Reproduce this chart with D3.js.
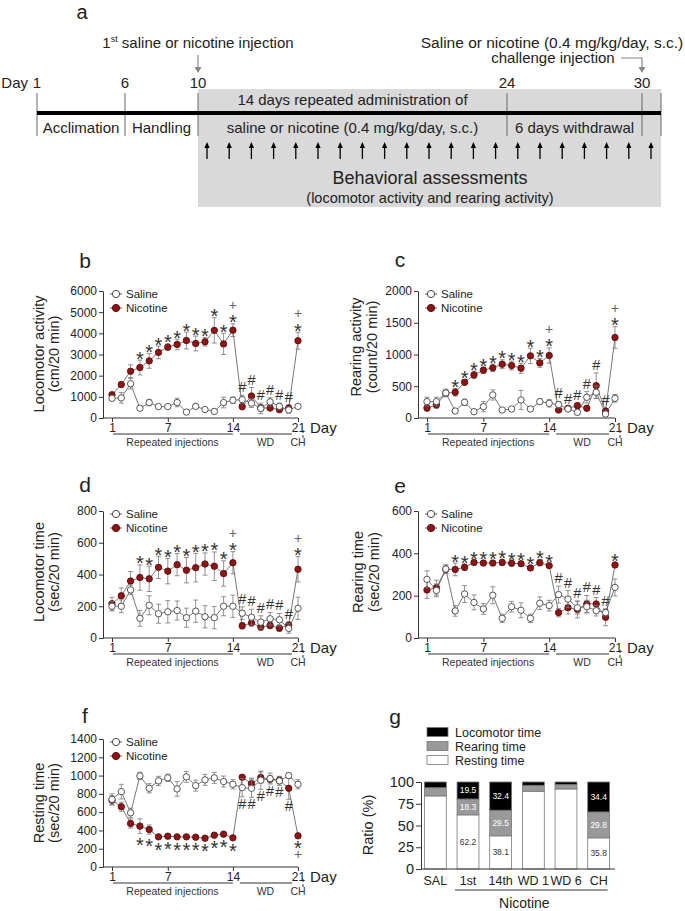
<!DOCTYPE html>
<html>
<head>
<meta charset="utf-8">
<script src="https://cdn.jsdelivr.net/npm/d3@7"></script>
<style>
  body { margin: 0; background: #fff; }
  svg { display: block; font-family: "Liberation Sans", Arial, sans-serif; }
</style>
</head>
<body>
<svg id="fig" width="685" height="911"></svg>
<script>
// ---- data ----
// panel a: experiment timeline
var timelineDays = [1, 6, 10, 24, 30]
var periodLabels = ["Acclimation", "Handling", "saline or nicotine (0.4 mg/kg/day, s.c.)", "6 days withdrawal"]
var assessDays = [10, 11, 12, 13, 14, 15, 16, 17, 18, 19, 20, 21, 22, 23, 24, 25, 26, 27, 28, 29, 30]

// panels b-f: test days (1-14 repeated injections, 15-20 withdrawal, 21 challenge)
var days = [1, 2, 3, 4, 5, 6, 7, 8, 9, 10, 11, 12, 13, 14, 15, 16, 17, 18, 19, 20, 21]
var dayTicks = [1, 7, 14, 21]
var starDays = [4, 5, 6, 7, 8, 9, 10, 11, 12, 13, 14, 21]
var hashDays = [15, 16, 17, 18, 19, 20]

// b: locomotor activity (cm/20 min)
var bTicks = [0, 1000, 2000, 3000, 4000, 5000, 6000]
var bSal = [930, 950, 1620, 460, 730, 540, 540, 730, 280, 550, 400, 310, 730, 840, 870, 700, 450, 760, 550, 380, 550]
var bSalErr = [100, 250, 250, 100, 150, 100, 60, 200, 60, 60, 60, 60, 250, 150, 200, 200, 250, 200, 150, 150, 60]
var bNic = [1100, 1580, 2210, 2385, 2700, 3100, 3350, 3475, 3660, 3520, 3600, 4140, 3500, 4150, 540, 1040, 480, 470, 400, 470, 3650]
var bNicErr = [100, 100, 300, 350, 350, 300, 150, 250, 400, 350, 200, 600, 500, 300, 150, 400, 150, 100, 150, 150, 400]
var bPlus = [14, 21]

// c: rearing activity (count/20 min)
var cTicks = [0, 500, 1000, 1500, 2000]
var cSal = [258, 258, 395, 110, 247, 100, 179, 363, 126, 142, 284, 142, 258, 232, 210, 142, 90, 326, 405, 63, 310]
var cSalErr = [70, 70, 60, 30, 50, 20, 80, 80, 30, 30, 150, 30, 40, 60, 50, 20, 40, 90, 100, 30, 60]
var cNic = [158, 205, 390, 405, 563, 679, 753, 790, 847, 826, 784, 979, 868, 984, 126, 153, 195, 153, 510, 110, 1268]
var cNicErr = [50, 50, 50, 60, 40, 60, 50, 60, 70, 70, 80, 120, 70, 120, 20, 20, 40, 30, 200, 40, 170]
var cPlus = [14, 21]

// d: locomotor time (sec/20 min)
var dTicks = [0, 200, 400, 600, 800]
var dSal = [200, 200, 303, 124, 206, 153, 165, 173, 128, 169, 134, 128, 200, 200, 156, 131, 100, 121, 115, 60, 187]
var dSalErr = [30, 40, 30, 50, 60, 60, 70, 60, 60, 70, 70, 70, 60, 70, 40, 50, 40, 40, 40, 30, 70]
var dNic = [216, 266, 359, 381, 373, 445, 421, 462, 427, 443, 466, 452, 406, 474, 77, 95, 69, 79, 62, 81, 433]
var dNicErr = [40, 50, 60, 80, 80, 70, 80, 70, 80, 90, 70, 90, 80, 70, 20, 20, 20, 20, 20, 20, 80]
var dPlus = [14, 21]

// e: rearing time (sec/20 min)
var eTicks = [0, 200, 400, 600]
var eSal = [277, 225, 326, 128, 208, 168, 137, 202, 93, 148, 131, 93, 164, 153, 205, 184, 143, 148, 129, 120, 239]
var eSalErr = [40, 30, 20, 25, 40, 35, 25, 40, 20, 25, 35, 20, 30, 25, 40, 40, 30, 30, 25, 15, 40]
var eNic = [227, 238, 324, 324, 334, 357, 354, 354, 357, 353, 351, 331, 356, 342, 120, 143, 135, 161, 161, 98, 345]
var eNicErr = [40, 35, 20, 30, 15, 10, 10, 10, 15, 10, 10, 10, 15, 10, 20, 30, 40, 40, 30, 40, 10]
var ePlus = []

// f: resting time (sec/20 min)
var fTicks = [0, 200, 400, 600, 800, 1000, 1200, 1400]
var fSal = [740, 824, 593, 996, 861, 942, 975, 854, 986, 890, 953, 975, 935, 905, 868, 861, 949, 967, 942, 1000, 905]
var fSalErr = [60, 80, 50, 40, 50, 50, 40, 80, 60, 60, 60, 60, 60, 50, 100, 100, 100, 60, 50, 30, 50]
var fNic = [730, 660, 476, 447, 410, 330, 337, 330, 330, 326, 315, 348, 359, 319, 982, 912, 979, 960, 949, 861, 341]
var fNicErr = [50, 50, 50, 80, 50, 15, 15, 15, 15, 15, 15, 15, 15, 15, 20, 60, 60, 40, 40, 120, 10]
var fPlus = [21]

// g: ratio of time (%)
var gCats = ["SAL", "1st", "14th", "WD 1", "WD 6", "CH"]
var gTicks = [0, 25, 50, 75, 100]
var gResting = [84.0, 62.2, 38.1, 89.4, 92.0, 35.8]
var gRearing = [9.5, 18.3, 29.5, 6.8, 5.0, 29.8]
var gLoco = [6.5, 19.5, 32.4, 3.8, 3.0, 34.4]
var gLabelled = ["1st", "14th", "CH"]  // bars that carry printed values

var nicRed = "#8c1616", nicDark = "#5e0c0c", ink = "#222"

var svg = d3.select("#fig")

function styleAxis(sel, size) {
  sel.attr("font-family", null).attr("font-size", size)
  sel.selectAll("path, line").attr("stroke", "#333")
  sel.selectAll("text").attr("fill", ink)
}

function txt(g, s, x, y, size, anchor) {
  return g.append("text").attr("x", x).attr("y", y).attr("font-size", size)
    .attr("text-anchor", anchor || "middle").attr("fill", ink).text(s)
}

// ---------- panel a ----------
var a = svg.append("g")
var tx = d3.scaleLinear().domain(timelineDays.concat([31])).range([37, 125, 198, 507, 642, 661])

a.append("rect").attr("x", tx(10)).attr("y", 89).attr("width", tx(31) - tx(10)).attr("height", 118).attr("fill", "#d9d9d9")
a.selectAll(".tk").data(timelineDays.concat([31])).enter().append("line")
  .attr("x1", tx).attr("x2", tx).attr("y1", 93).attr("y2", 136).attr("stroke", "#666")
a.append("line").attr("x1", tx(1)).attr("x2", tx(31)).attr("y1", 113).attr("y2", 113).attr("stroke", "#000").attr("stroke-width", 4)

txt(a, "a", 82, 19, 20)
txt(a, "Day", 28, 88, 15, "end")
timelineDays.forEach(function(d) { txt(a, d, tx(d), 88, 15) })
periodLabels.forEach(function(s, i) {
  txt(a, s, (tx(timelineDays[i]) + tx(timelineDays[i + 1])) / 2, 133, 15)
})
txt(a, "14 days repeated administration of", (tx(10) + tx(24)) / 2, 105, 15)

var inj = a.append("text").attr("x", tx(10)).attr("y", 48).attr("font-size", 15).attr("text-anchor", "middle").attr("fill", ink)
inj.append("tspan").text("1")
inj.append("tspan").attr("font-size", 9).attr("dy", -6).text("st")
inj.append("tspan").attr("dy", 6).text(" saline or nicotine injection")
// first injection arrow
a.append("line").attr("x1", tx(10)).attr("x2", tx(10)).attr("y1", 55).attr("y2", 68).attr("stroke", "#888").attr("stroke-width", 1.2)
a.append("path").attr("d", "M" + (tx(10) - 3.5) + ",67L" + tx(10) + ",73L" + (tx(10) + 3.5) + ",67Z").attr("fill", "#888")

txt(a, "Saline or nicotine (0.4 mg/kg/day, s.c.)", 552, 48, 15.5)
txt(a, "challenge injection", 553, 63, 15)
a.append("path").attr("d", "M621,58H" + tx(30) + "V68").attr("fill", "none").attr("stroke", "#888").attr("stroke-width", 1.2)
a.append("path").attr("d", "M" + (tx(30) - 3.5) + ",67L" + tx(30) + ",73L" + (tx(30) + 3.5) + ",67Z").attr("fill", "#888")

var ax = d3.scalePoint().domain(assessDays).range([207, 651])
assessDays.forEach(function(d) {
  var x = ax(d)
  a.append("line").attr("x1", x).attr("x2", x).attr("y1", 159).attr("y2", 146).attr("stroke", "#000").attr("stroke-width", 1.3)
  a.append("path").attr("d", "M" + (x - 2.6) + ",148L" + x + ",142L" + (x + 2.6) + ",148Z").attr("fill", "#000")
})
txt(a, "Behavioral assessments", 430, 184, 18)
txt(a, "(locomotor activity and rearing activity)", 430, 203, 14.5)

// ---------- panels b-f ----------
function mark(g, sym, cx, cy) {
  if (sym === "*") g.append("text").attr("x", cx).attr("y", cy + 11.5).attr("font-size", 20).attr("text-anchor", "middle").attr("fill", "#333").text("*")
  if (sym === "#") g.append("text").attr("x", cx).attr("y", cy + 5).attr("font-size", 14.5).attr("text-anchor", "middle").attr("fill", "#333").text("#")
  if (sym === "+") g.append("text").attr("x", cx).attr("y", cy + 5).attr("font-size", 14).attr("text-anchor", "middle").attr("fill", "#666").text("+")
}

function drawLinePanel(p) {
  var g = svg.append("g")
  var x = d3.scaleLinear().domain([1, 21]).range([p.xFirst, p.xLast])
  var y = d3.scaleLinear().domain([0, p.ticks[p.ticks.length - 1]]).range([p.yBottom, p.yTop])

  var ya = g.append("g").attr("transform", "translate(" + p.axisX + ",0)")
    .call(d3.axisLeft(y).tickValues(p.ticks).tickFormat(d3.format("d")).tickSize(4).tickSizeOuter(0).tickPadding(2))
  styleAxis(ya, 12)

  g.append("line").attr("x1", p.axisX).attr("x2", x(21)).attr("y1", p.yBottom).attr("y2", p.yBottom).attr("stroke", "#333")
  var xa = g.append("g").attr("transform", "translate(0," + p.yBottom + ")")
    .call(d3.axisBottom(x).tickValues(dayTicks).tickSize(4).tickPadding(1))
  xa.select(".domain").remove()
  styleAxis(xa, 12)

  txt(g, "Day", x(21) + 12, p.yBottom + 15, 15, "start")
  var ly = p.yBottom + 16
  g.append("line").attr("x1", x(1) + 1).attr("x2", x(14)).attr("y1", ly).attr("y2", ly).attr("stroke", "#333")
  g.append("line").attr("x1", x(14) + 7).attr("x2", x(21) - 6).attr("y1", ly).attr("y2", ly).attr("stroke", "#333")
  g.append("line").attr("x1", x(21) + 5).attr("x2", x(21) + 5).attr("y1", p.yBottom + 12).attr("y2", p.yBottom + 22)
    .attr("stroke", "#333").attr("stroke-dasharray", "3,2")
  txt(g, "Repeated injections", (x(1) + x(14)) / 2, p.yBottom + 28, 10.5).attr("fill", "#333")
  txt(g, "WD", (x(14) + x(21)) / 2, p.yBottom + 28, 10.5).attr("fill", "#333")
  txt(g, "CH", x(21), p.yBottom + 28, 10.5).attr("fill", "#333")

  // axis titles
  var cy = p.titleY
  g.append("text").attr("transform", "translate(" + p.tx1 + "," + cy + ") rotate(-90)").attr("text-anchor", "middle")
    .attr("font-size", 14.5).attr("fill", ink).text(p.t1)
  g.append("text").attr("transform", "translate(" + p.tx2 + "," + cy + ") rotate(-90)").attr("text-anchor", "middle")
    .attr("font-size", 14.5).attr("fill", ink).text(p.t2)
  txt(g, p.letter, p.lx, p.ly, 21)

  var series = [
    { vals: p.nic, errs: p.nicErr, fill: nicRed, stroke: nicDark },
    { vals: p.sal, errs: p.salErr, fill: "#fff", stroke: "#444" }
  ]
  var line = d3.line().x(function(d, i) { return x(days[i]) }).y(function(d) { return y(d) })
  series.forEach(function(s) {
    g.append("path").datum(s.vals).attr("d", line).attr("fill", "none").attr("stroke", "#555").attr("stroke-width", 0.8)
    s.vals.forEach(function(v, i) {
      var cx = x(days[i]), lo = y(Math.max(0, v - s.errs[i])), hi = y(v + s.errs[i])
      g.append("line").attr("x1", cx).attr("x2", cx).attr("y1", lo).attr("y2", hi).attr("stroke", "#777").attr("stroke-width", 0.8)
      g.append("line").attr("x1", cx - 2.5).attr("x2", cx + 2.5).attr("y1", lo).attr("y2", lo).attr("stroke", "#777").attr("stroke-width", 0.8)
      g.append("line").attr("x1", cx - 2.5).attr("x2", cx + 2.5).attr("y1", hi).attr("y2", hi).attr("stroke", "#777").attr("stroke-width", 0.8)
    })
    g.selectAll(null).data(s.vals).enter().append("circle")
      .attr("cx", function(d, i) { return x(days[i]) }).attr("cy", function(d) { return y(d) })
      .attr("r", 3.2).attr("fill", s.fill).attr("stroke", s.stroke).attr("stroke-width", 0.9)
  })

  // significance marks
  days.forEach(function(d, i) {
    var cx = x(d)
    var star = starDays.indexOf(d) >= 0, hash = hashDays.indexOf(d) >= 0, plus = p.plus.indexOf(d) >= 0
    if (!p.below) {
      var top = Math.min(y(p.sal[i] + p.salErr[i]), y(p.nic[i] + p.nicErr[i]))
      if (star) { mark(g, "*", cx, top - 6); if (plus) mark(g, "+", cx, top - 19) }
      if (hash) mark(g, "#", cx, top - 8)
    } else {
      var bot = Math.max(y(p.sal[i] - p.salErr[i]), y(p.nic[i] - p.nicErr[i]))
      if (star) { mark(g, "*", cx, bot + 7); if (plus) mark(g, "+", cx, bot + 17) }
      if (hash) mark(g, "#", cx, bot + 7)
    }
  })

  // legend
  var lx = p.axisX + 13
  ;[{ name: "Saline", fill: "#fff", stroke: "#444" }, { name: "Nicotine", fill: nicRed, stroke: nicDark }].forEach(function(l, k) {
    var yy = p.yTop + 3 + k * 14
    g.append("line").attr("x1", lx - 6).attr("x2", lx + 6).attr("y1", yy).attr("y2", yy).attr("stroke", "#555")
    g.append("circle").attr("cx", lx).attr("cy", yy).attr("r", 3.6).attr("fill", l.fill).attr("stroke", l.stroke)
    txt(g, l.name, lx + 10, yy + 4, 11.5, "start")
  })
}

var leftX = { axisX: 103, xFirst: 112, xLast: 298, lx: 85, tx1: 44, tx2: 59 }
var rightX = { axisX: 418, xFirst: 427, xLast: 615, lx: 400, tx1: 361, tx2: 377 }

drawLinePanel(Object.assign({ letter: "b", ly: 268, yBottom: 418, yTop: 291, titleY: 354, ticks: bTicks,
  sal: bSal, salErr: bSalErr, nic: bNic, nicErr: bNicErr, plus: bPlus, below: false,
  t1: "Locomotor activity", t2: "(cm/20 min)" }, leftX))
drawLinePanel(Object.assign({ letter: "c", ly: 267, yBottom: 418, yTop: 291, titleY: 347, ticks: cTicks,
  sal: cSal, salErr: cSalErr, nic: cNic, nicErr: cNicErr, plus: cPlus, below: false,
  t1: "Rearing activity", t2: "(count/20 min)" }, rightX))
drawLinePanel(Object.assign({ letter: "d", ly: 492, yBottom: 638, yTop: 511, titleY: 572, ticks: dTicks,
  sal: dSal, salErr: dSalErr, nic: dNic, nicErr: dNicErr, plus: dPlus, below: false,
  t1: "Locomotor time", t2: "(sec/20 min)" }, leftX))
drawLinePanel(Object.assign({ letter: "e", ly: 493, yBottom: 638, yTop: 511, titleY: 572, ticks: eTicks,
  sal: eSal, salErr: eSalErr, nic: eNic, nicErr: eNicErr, plus: ePlus, below: false,
  t1: "Rearing time", t2: "(sec/20 min)" }, Object.assign({}, rightX, { tx1: 363, tx2: 379 })))
drawLinePanel(Object.assign({ letter: "f", ly: 723, yBottom: 867, yTop: 739, titleY: 803, ticks: fTicks,
  sal: fSal, salErr: fSalErr, nic: fNic, nicErr: fNicErr, plus: fPlus, below: true,
  t1: "Resting time", t2: "(sec/20 min)" }, leftX))

// ---------- panel g ----------
var gg = svg.append("g")
var xb = d3.scaleBand().domain(gCats).range([419, 615]).paddingInner(0.33).paddingOuter(0.165)
var yg = d3.scaleLinear().domain([0, 100]).range([869, 782])
var rows = gCats.map(function(c, i) { return { cat: c, resting: gResting[i], rearing: gRearing[i], loco: gLoco[i] } })
var keys = ["resting", "rearing", "loco"]
var segFill = { resting: "#fff", rearing: "#999", loco: "#000" }
var segText = { resting: "#333", rearing: "#fff", loco: "#fff" }
var stacked = d3.stack().keys(keys)(rows)

stacked.forEach(function(layer) {
  gg.selectAll(null).data(layer).enter().append("rect")
    .attr("x", function(d) { return xb(d.data.cat) }).attr("width", xb.bandwidth())
    .attr("y", function(d) { return yg(d[1]) }).attr("height", function(d) { return yg(d[0]) - yg(d[1]) })
    .attr("fill", segFill[layer.key]).attr("stroke", "#777").attr("stroke-width", 0.8)
  gg.selectAll(null).data(layer.filter(function(d) { return gLabelled.indexOf(d.data.cat) >= 0 })).enter().append("text")
    .attr("x", function(d) { return xb(d.data.cat) + xb.bandwidth() / 2 })
    .attr("y", function(d) { return (yg(d[0]) + yg(d[1])) / 2 + 3 })
    .attr("text-anchor", "middle").attr("font-size", 8.5).attr("fill", segText[layer.key])
    .text(function(d) { return d.data[layer.key].toFixed(1) })
})

var gya = gg.append("g").attr("transform", "translate(421,0)")
  .call(d3.axisLeft(yg).tickValues(gTicks).tickSize(5).tickSizeOuter(0).tickPadding(2))
styleAxis(gya, 14.5)
gg.append("line").attr("x1", 421).attr("x2", 615).attr("y1", 869).attr("y2", 869).attr("stroke", "#333")
gCats.forEach(function(c) { txt(gg, c, xb(c) + xb.bandwidth() / 2, 885, 12.5) })
var bx1 = xb("1st") - 2, bx2 = xb("CH") + xb.bandwidth() - 2
gg.append("line").attr("x1", bx1).attr("x2", bx2).attr("y1", 890).attr("y2", 890).attr("stroke", "#333")
txt(gg, "Nicotine", (bx1 + bx2) / 2 - 7, 908, 14)
gg.append("text").attr("transform", "translate(373,825) rotate(-90)").attr("text-anchor", "middle")
  .attr("font-size", 14.5).attr("fill", ink).text("Ratio (%)")
txt(gg, "g", 395, 724, 21)

var legendKeys = ["loco", "rearing", "resting"]
var legendNames = ["Locomotor time", "Rearing time", "Resting time"]
legendKeys.forEach(function(k, i) {
  var yy = 732 + i * 14
  gg.append("rect").attr("x", 427).attr("y", yy - 4.5).attr("width", 21).attr("height", 9)
    .attr("fill", segFill[k]).attr("stroke", "#777").attr("stroke-width", 0.8)
  txt(gg, legendNames[i], 455, yy + 4.5, 12.5, "start")
})
</script>
</body>
</html>
